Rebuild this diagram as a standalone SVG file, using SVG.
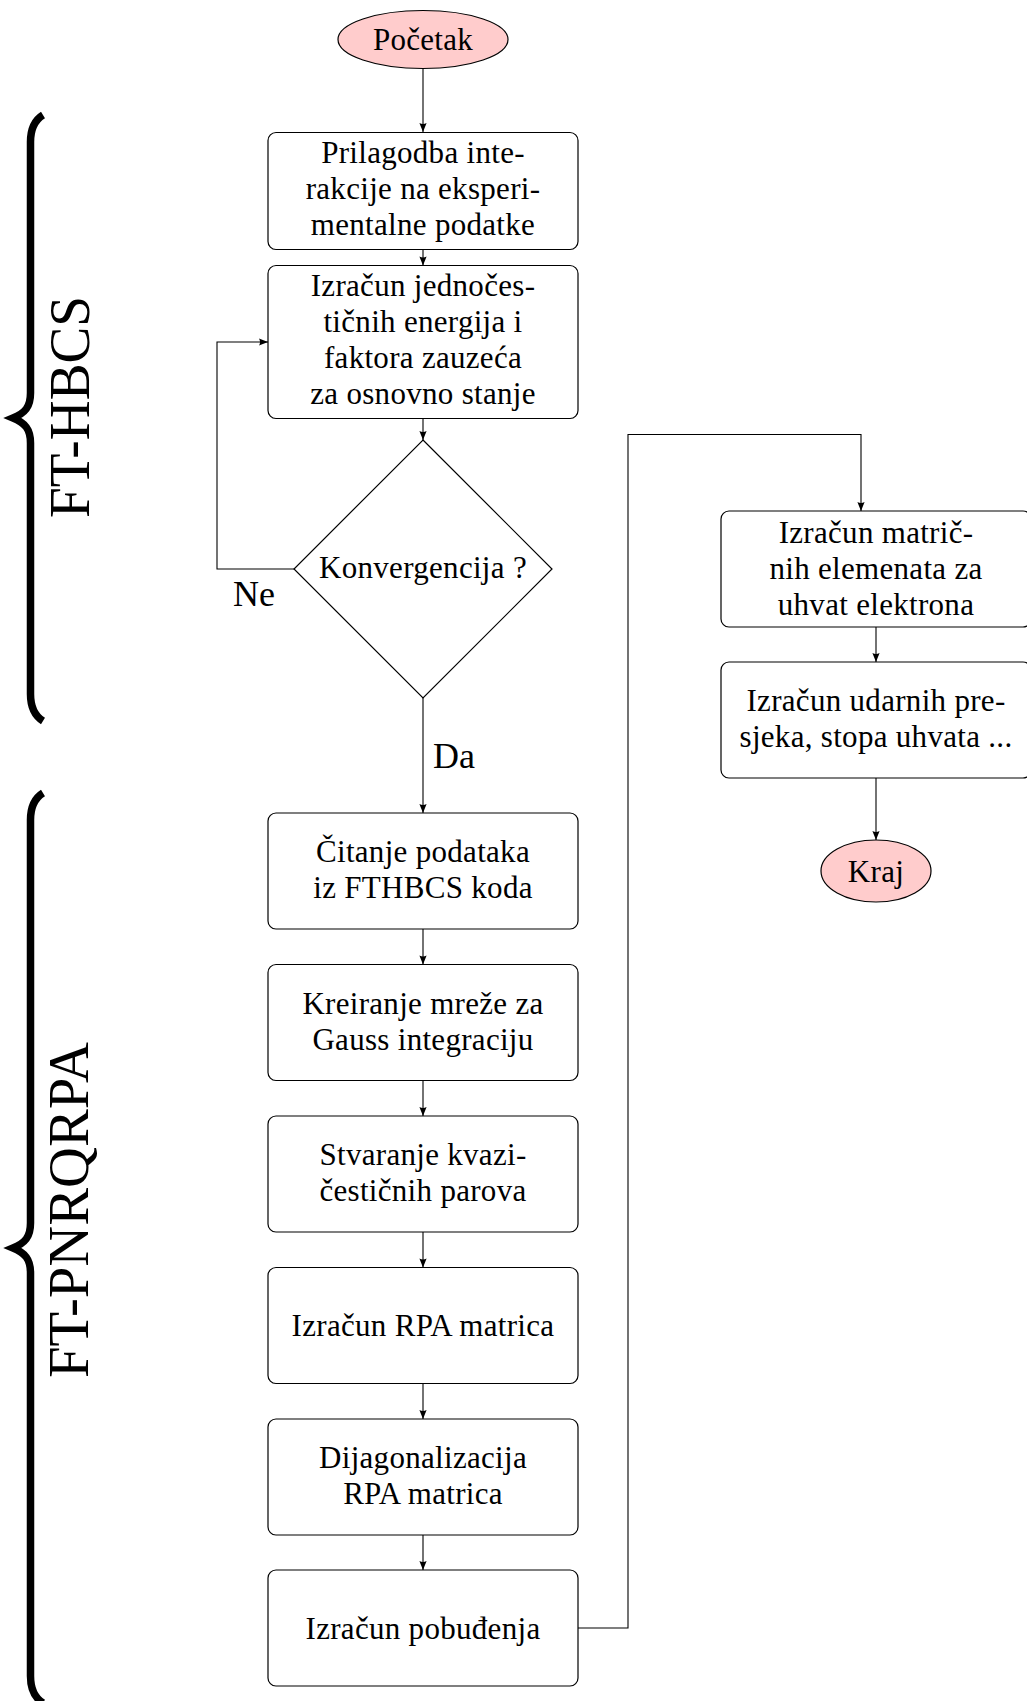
<svg xmlns="http://www.w3.org/2000/svg" width="1027" height="1701" viewBox="0 0 1027 1701">
<style>
.box{fill:#ffffff;stroke:#000;stroke-width:1.2}
.term{fill:#ffcccc;stroke:#000;stroke-width:1.2}
.t{font-family:"Liberation Serif","Times New Roman",serif;font-size:31px;letter-spacing:0.3px;text-anchor:middle;fill:#000}
.lbl{font-family:"Liberation Serif","Times New Roman",serif;font-size:36px;fill:#000}
.big{font-family:"Liberation Serif","Times New Roman",serif;font-size:58px;text-anchor:middle;fill:#000}
.edge{fill:none;stroke:#000;stroke-width:1.1}
.brace{fill:none;stroke:#000;stroke-width:7.5;stroke-linecap:butt}
</style>
<defs>
<marker id="arr" markerUnits="userSpaceOnUse" markerWidth="12" markerHeight="10" viewBox="-10 -5 12 10" refX="0" refY="0" orient="auto">
<path d="M0,0 L-9,-3.6 Q-7,0 -9,3.6 Z" fill="#000"/>
</marker>
</defs>

<g id="braces">
<g id="brace-fthbcs">
<path class="brace" d="M43,115 C35,120 30.5,128 30.5,142 L30.5,393 C30.5,407 25,413 13,418 C25,423 30.5,429 30.5,443 L30.5,694 C30.5,708 35,716 43,721"/>
<text class="big" textLength="222" lengthAdjust="spacingAndGlyphs" transform="translate(89,407) rotate(-90)">FT-HBCS</text>
</g>
<g id="brace-ftpnrqrpa">
<path class="brace" d="M43,793 C35,798 30.5,806 30.5,820 L30.5,1223 C30.5,1237 25,1243 13,1248 C25,1253 30.5,1259 30.5,1273 L30.5,1676 C30.5,1690 35,1698 43,1703"/>
<text class="big" textLength="336" lengthAdjust="spacingAndGlyphs" transform="translate(88,1210) rotate(-90)">FT-PNRQRPA</text>
</g>
</g>

<g id="connectors">
<path class="edge" marker-end="url(#arr)" d="M423,68.5 L423,132"/>
<path class="edge" marker-end="url(#arr)" d="M423,249.5 L423,265.5"/>
<path class="edge" marker-end="url(#arr)" d="M423,418.5 L423,440"/>
<path class="edge" marker-end="url(#arr)" d="M294,569 L217,569 L217,342 L268,342"/>
<path class="edge" marker-end="url(#arr)" d="M423,698 L423,813"/>
<path class="edge" marker-end="url(#arr)" d="M423,929 L423,964.5"/>
<path class="edge" marker-end="url(#arr)" d="M423,1080.5 L423,1116"/>
<path class="edge" marker-end="url(#arr)" d="M423,1232 L423,1267.5"/>
<path class="edge" marker-end="url(#arr)" d="M423,1383.5 L423,1419"/>
<path class="edge" marker-end="url(#arr)" d="M423,1535 L423,1570"/>
<path class="edge" marker-end="url(#arr)" d="M578,1628 L628,1628 L628,434.5 L861,434.5 L861,511"/>
<path class="edge" marker-end="url(#arr)" d="M876,627 L876,662"/>
<path class="edge" marker-end="url(#arr)" d="M876,778 L876,840"/>
<text class="lbl" x="233" y="605.5">Ne</text>
<text class="lbl" x="433" y="768">Da</text>
</g>

<g id="start">
<ellipse class="term" cx="423" cy="39.5" rx="85" ry="29"/>
<text class="t" x="423" y="50">Početak</text>
</g>

<g id="n1">
<rect class="box" x="268" y="132.5" width="310" height="117" rx="8"/>
<text class="t" x="423" y="163">Prilagodba inte-</text>
<text class="t" x="423" y="199">rakcije na eksperi-</text>
<text class="t" x="423" y="235">mentalne podatke</text>
</g>

<g id="n2">
<rect class="box" x="268" y="265.5" width="310" height="153" rx="8"/>
<text class="t" x="423" y="296">Izračun jednočes-</text>
<text class="t" x="423" y="332">tičnih energija i</text>
<text class="t" x="423" y="368">faktora zauzeća</text>
<text class="t" x="423" y="404">za osnovno stanje</text>
</g>

<g id="decision">
<polygon class="box" points="423,440 552,569 423,698 294,569"/>
<text class="t" x="423" y="578">Konvergencija ?</text>
</g>

<g id="n3">
<rect class="box" x="268" y="813" width="310" height="116" rx="8"/>
<text class="t" x="423" y="862">Čitanje podataka</text>
<text class="t" x="423" y="898">iz FTHBCS koda</text>
</g>

<g id="n4">
<rect class="box" x="268" y="964.5" width="310" height="116" rx="8"/>
<text class="t" x="423" y="1013.5">Kreiranje mreže za</text>
<text class="t" x="423" y="1049.5">Gauss integraciju</text>
</g>

<g id="n5">
<rect class="box" x="268" y="1116" width="310" height="116" rx="8"/>
<text class="t" x="423" y="1165">Stvaranje kvazi-</text>
<text class="t" x="423" y="1201">čestičnih parova</text>
</g>

<g id="n6">
<rect class="box" x="268" y="1267.5" width="310" height="116" rx="8"/>
<text class="t" x="423" y="1336">Izračun RPA matrica</text>
</g>

<g id="n7">
<rect class="box" x="268" y="1419" width="310" height="116" rx="8"/>
<text class="t" x="423" y="1468">Dijagonalizacija</text>
<text class="t" x="423" y="1504">RPA matrica</text>
</g>

<g id="n8">
<rect class="box" x="268" y="1570" width="310" height="116" rx="8"/>
<text class="t" x="423" y="1638.5">Izračun pobuđenja</text>
</g>

<g id="n9">
<rect class="box" x="721" y="511" width="310" height="116" rx="8"/>
<text class="t" x="876" y="543">Izračun matrič-</text>
<text class="t" x="876" y="579">nih elemenata za</text>
<text class="t" x="876" y="615">uhvat elektrona</text>
</g>

<g id="n10">
<rect class="box" x="721" y="662" width="310" height="116" rx="8"/>
<text class="t" x="876" y="711">Izračun udarnih pre-</text>
<text class="t" x="876" y="747">sjeka, stopa uhvata ...</text>
</g>

<g id="end">
<ellipse class="term" cx="876" cy="871" rx="55" ry="31"/>
<text class="t" x="876" y="881.5">Kraj</text>
</g>
</svg>
